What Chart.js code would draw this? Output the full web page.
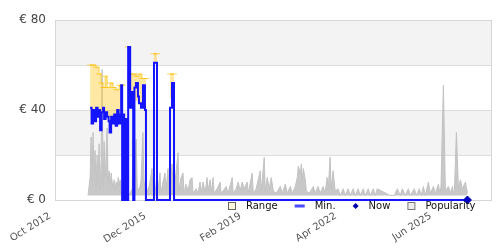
<!DOCTYPE html>
<html><head><meta charset="utf-8">
<script src="https://cdn.jsdelivr.net/npm/chart.js@4/dist/chart.umd.min.js"></script>
<style>html,body{margin:0;padding:0;background:#fff}</style>
</head><body>
<canvas id="c" width="500" height="250"></canvas>
<script>
// x values are months since Oct 2012
const xTickValues = [0, 38, 76, 114, 152];
const xTickLabels = ['Oct 2012', 'Dec 2015', 'Feb 2019', 'Apr 2022', 'Jun 2025'];
const yGridValues = [0, 20, 40, 60, 80];
const yLabelValues = [0, 40, 80];
const yLabelTexts = ['€ 0', '€ 40', '€ 80'];
const seriesNames = ['Range', 'Min.', 'Now', 'Popularity'];

const minX = [14.0,14.6,15.2,15.8,16.4,17.0,17.6,18.0,18.6,19.2,19.6,20.2,20.8,21.4,21.8,22.4,23.0,23.6,24.2,24.8,25.4,26.0,26.4,26.8,27.2,27.6,28.2,28.6,29.2,30.0,30.4,31.2,31.7,32.3,33.1,33.5,34.3,35.1,35.9,36.3,39.5,40.7,45.9,46.7,47.5,164.6];
const minY = [41,34,40,35,41,37,40,31,39,41,36,39,37,35,30,37,34,38,33,40,34,38,51,0,38,0,36,0,68,41,48,0,50,52,46,43,41,51,40,0,61,0,41,52,0,0];

const rangeX = [14.0,15.2,16.4,17.6,18.4,19.2,20.0,20.8,22.0,23.2,24.4,25.6,26.6,27.0,27.2, 29.0,30.0,31.2,32.4,33.5,34.7,35.9,36.3,36.5, 39.3,40.7,40.9, 45.9,47.5,47.7];
const rangeHigh = [60,60,59,56,52,50,55,50,52,50,49,51,51,51,null, 68,56,56,55,56,54,54,54,null, 65,65,null, 56,56,null];
const rangeLow  = [38,38,38,37,38,38,38,37,36,36,36,37,40,40,null, 41,44,44,44,43,42,42,42,null, 61,61,null, 45,45,null];

const nowX = [164.6];
const nowY = [0];

const popX = [13.2,14.0,14.4,14.8,15.2,15.6,16.0,16.4,16.8,17.2,17.6,18.0,18.4,18.8,19.2,19.6,20.0,20.4,20.8,21.2,21.6,22.0,22.4,22.8,23.2,23.6,24.0,24.4,24.8,25.2,25.6,26.0,26.4,26.8,27.6,28.4,29.2,30.0,30.8,31.2,31.6,32.4,32.8,33.5,34.3,35.1,35.5,36.3,37.1,37.9,38.7,39.1,39.9,40.7,41.1,41.9,42.3,43.1,43.9,44.3,45.1,45.5,46.7,47.1,47.9,49.1,49.5,50.3,51.1,51.5,52.3,53.1,53.9,54.7,55.1,56.3,57.1,57.9,58.3,59.1,59.9,60.7,61.1,61.9,62.3,63.1,63.5,64.7,65.9,66.3,67.1,68.3,69.1,70.7,71.1,72.3,73.1,73.9,74.7,75.5,76.7,77.1,78.7,79.1,80.3,81.9,82.3,83.5,83.9,84.7,85.5,86.3,87.1,88.3,89.9,90.7,91.9,92.7,93.9,94.7,95.9,96.7,97.1,97.9,98.3,98.7,99.1,99.9,100.3,101.5,103.1,103.8,105.0,105.8,107.0,107.8,108.6,109.0,109.8,110.2,111.0,111.8,113.0,113.8,115.0,115.8,117.0,117.8,119.0,119.8,121.0,121.8,123.0,123.8,125.0,125.8,127.0,127.8,128.6,133.8,134.6,135.4,136.6,137.8,138.6,139.8,141.0,141.8,143.4,144.2,145.4,146.2,147.0,147.8,149.0,149.8,151.0,151.8,153.0,153.6,153.8,154.0,155.0,155.8,157.0,157.8,158.6,159.0,159.4,160.2,161.0,161.8,162.6,163.8,164.6];
const popY = [0,8,26,6,28,10,20,4,18,6,23,3,16,56,4,24,8,18,30,6,11,4,10,6,3,7,2,6,3,8,4,7,1,3,0,1,0,1,3,25,2,25,4,2,6,28,6,4,2,6,12,2,1,8,2,10,1,6,10,2,12,1,14,3,6,19,2,8,10,1,5,2,7,8,1,3,1,6,1,6,1,8,2,7,1,8,1,3,6,1,2,4,1,8,1,3,6,2,6,3,6,1,10,1,3,11,2,17,2,8,3,8,2,1,4,1,5,1,4,1,4,8,13,10,14,7,12,7,2,1,4,1,4,1,4,1,8,2,17,3,11,2,3,0,3,0,3,0,3,0,3,0,3,0,3,0,3,0,3,0,0,0,3,0,3,0,3,0,3,0,3,0,4,0,6,1,4,1,5,1,3,2,49,2,4,1,4,1,2,28,3,7,3,6,1,2,0];

const pts = (xs, ys) => xs.map((x, i) => ({x: x, y: ys[i]}));

const bandPlugin = {
  id: 'bands',
  beforeDraw(chart) {
    const {ctx, chartArea: a, scales: {y}} = chart;
    ctx.save();
    ctx.fillStyle = '#f3f3f3';
    [[60, 80], [20, 40]].forEach(([lo, hi]) => {
      const t = y.getPixelForValue(hi), b = y.getPixelForValue(lo);
      ctx.fillRect(a.left, t, a.right - a.left, b - t);
    });
    ctx.restore();
  },
  beforeDatasetsDraw(chart) {
    const {ctx, chartArea: a} = chart;
    ctx.save();
    ctx.strokeStyle = '#d6d6d6';
    ctx.lineWidth = 1;
    ctx.strokeRect(Math.round(a.left) + 0.5, Math.round(a.top) + 0.5, Math.round(a.right - a.left), Math.round(a.bottom - a.top));
    ctx.restore();
  },
  afterDraw(chart) {
    const {ctx, chartArea: a} = chart;
    const ds = chart.data.datasets;
    const items = [
      {label: ds[0].label, kind: 'box', fill: '#fff7dc', stroke: '#666'},
      {label: ds[2].label, kind: 'line', stroke: '#4a4aff'},
      {label: ds[3].label, kind: 'diamond', fill: '#0000aa'},
      {label: ds[4].label, kind: 'box', fill: '#eeeeee', stroke: '#777'}
    ];
    ctx.save();
    ctx.font = '10px "DejaVu Sans"';
    ctx.textBaseline = 'middle';
    ctx.fillStyle = '#111';
    const cy = a.bottom + 6;
    let x = 228;
    items.forEach(it => {
      let w = 8;
      if (it.kind === 'box') {
        ctx.fillStyle = it.fill; ctx.fillRect(x + 0.5, cy - 3.5, 7, 7);
        ctx.strokeStyle = it.stroke; ctx.lineWidth = 1; ctx.strokeRect(x + 0.5, cy - 3.5, 7, 7);
        w = 8;
      } else if (it.kind === 'line') {
        ctx.strokeStyle = it.stroke; ctx.lineWidth = 3;
        ctx.beginPath(); ctx.moveTo(x, cy); ctx.lineTo(x + 10, cy); ctx.stroke();
        w = 10;
      } else {
        ctx.fillStyle = it.fill;
        ctx.beginPath(); ctx.moveTo(x + 3, cy - 3); ctx.lineTo(x + 6, cy); ctx.lineTo(x + 3, cy + 3); ctx.lineTo(x, cy); ctx.closePath(); ctx.fill();
        w = 6;
      }
      x += w + 10;
      ctx.fillStyle = '#111';
      ctx.fillText(it.label, x, cy);
      x += ctx.measureText(it.label).width + 17;
    });
    ctx.restore();
  }
};

new Chart(document.getElementById('c'), {
  type: 'line',
  data: {
    datasets: [
      {label: seriesNames[0], data: pts(rangeX, rangeHigh), stepped: true, fill: '+1',
       backgroundColor: 'rgba(255,205,50,0.45)', borderColor: 'rgba(255,195,30,0.75)', borderWidth: 1,
       pointStyle: 'line', pointRadius: 3, pointBorderColor: 'rgba(255,190,0,0.6)', pointBorderWidth: 1, spanGaps: false, order: 3, yAxisID: 'y'},
      {label: 'rangeLow', data: pts(rangeX, rangeLow), stepped: true, fill: false,
       borderColor: 'rgba(0,0,0,0)', borderWidth: 0, pointRadius: 0, spanGaps: false, order: 4, yAxisID: 'y'},
      {label: seriesNames[1], data: pts(minX, minY), stepped: true, fill: false,
       borderColor: '#1414ff', borderWidth: 2, pointRadius: 0, order: 1, clip: 6, yAxisID: 'y'},
      {label: seriesNames[2], data: pts(nowX, nowY), showLine: false,
       pointStyle: 'rectRot', pointRadius: 4, backgroundColor: '#0000cc', borderColor: '#0000aa', order: 0, clip: 8, yAxisID: 'y'},
      {label: seriesNames[3], data: pts(popX, popY), fill: 'origin', tension: 0,
       backgroundColor: 'rgba(190,190,190,0.85)', borderColor: '#c2c2c2', borderWidth: 1, pointRadius: 0, order: 5, yAxisID: 'y2'}
    ]
  },
  options: {
    responsive: false, animation: false, devicePixelRatio: 1,
    layout: {padding: {top: 20, right: 9, left: 0, bottom: 0}},
    plugins: {legend: {display: false}, tooltip: {enabled: false}},
    scales: {
      x: {type: 'linear', min: 0, max: 174,
        afterBuildTicks: s => { s.ticks = xTickValues.map(v => ({value: v})); },
        ticks: {autoSkip: false, minRotation: 32, maxRotation: 32, color: '#555', padding: 10, labelOffset: -5,
          font: {family: 'DejaVu Sans', size: 10},
          callback: v => { const i = xTickValues.indexOf(v); return i >= 0 ? xTickLabels[i] : ''; }},
        grid: {display: false, drawTicks: false}, border: {display: false},
        afterFit: s => { s.height = 50; }},
      y: {min: 0, max: 80,
        afterBuildTicks: s => { s.ticks = yGridValues.map(v => ({value: v})); },
        ticks: {color: '#444', padding: 9, font: {family: 'DejaVu Sans', size: 12},
          callback: v => { const i = yLabelValues.indexOf(v); return i >= 0 ? yLabelTexts[i] : ''; }},
        grid: {color: '#dddddd', drawTicks: false}, border: {display: false},
        afterFit: s => { s.width = 55; }},
      y2: {display: false, min: -2, max: 78}
    }
  },
  plugins: [bandPlugin]
});
</script>
</body></html>
